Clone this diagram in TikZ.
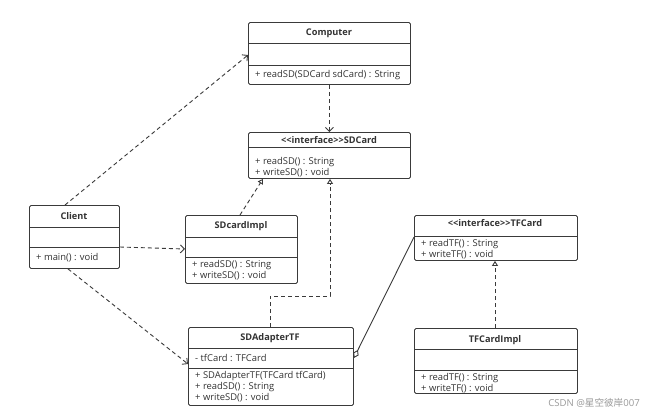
\documentclass[tikz,border=0pt]{standalone}
\usepackage{fontspec}
\setmainfont{Open Sans}
\newfontfamily\cjk{Noto Sans CJK SC}
\usetikzlibrary{arrows.meta,calc}
\definecolor{linec}{HTML}{3A3A3A}
\definecolor{textc}{HTML}{333333}
\definecolor{wmc}{HTML}{9A9A9A}
\begin{document}
\begin{tikzpicture}[x=1pt,y=-1pt,
  cls/.style={draw=linec, line width=0.9pt, rounded corners=1.5pt, fill=white, anchor=north west, inner sep=0pt},
  ttl/.style={font=\fontsize{9.2}{10}\selectfont\bfseries, text=textc, inner sep=0pt},
  mem/.style={font=\fontsize{9.4}{10}\selectfont, text=textc, anchor=west, inner sep=0pt},
  divl/.style={draw=linec, line width=0.9pt},
  conn/.style={draw=linec, line width=0.9pt},
  dep/.style={conn, dash pattern=on 4pt off 3pt, -{Straight Barb[length=4pt,width=8pt]}},
  real/.style={conn, dash pattern=on 4pt off 3pt, -{Triangle[open,length=5pt,width=6pt]}},
  agg/.style={conn, {Diamond[open,length=9pt,width=6pt]}-}
]
\useasboundingbox[fill=white] (0,0) rectangle (647,415);

% Computer
\node[cls, minimum width=162pt, minimum height=62pt] (computer) at (248,22) {};
\draw[divl] (248,43) -- (410,43) (248,65) -- (410,65);
\node[ttl] (computerT) at (329,33) {Computer};
\node[mem] (computerM1) at (255,75) {+ readSD(SDCard sdCard) : String};

% SDCard
\node[cls, minimum width=162pt, minimum height=46pt] (sdcard) at (248,132) {};
\draw[divl] (248,147) -- (410,147);
\node[ttl] (sdcardT) at (329,140) {<{}<interface>{}>SDCard};
\node[mem] (sdcardM1) at (255,162) {+ readSD() : String};
\node[mem] (sdcardM2) at (255,173) {+ writeSD() : void};

% Client
\node[cls, minimum width=90pt, minimum height=63pt] (client) at (29,205) {};
\draw[divl] (29,227) -- (119,227) (29,247) -- (119,247);
\node[ttl] (clientT) at (74,216) {Client};
\node[mem] (clientM1) at (36,258) {+ main() : void};

% SDcardImpl
\node[cls, minimum width=112pt, minimum height=68pt] (sdimpl) at (185,215) {};
\draw[divl] (185,237) -- (297,237) (185,257) -- (297,257);
\node[ttl] (sdimplT) at (241,226) {SDcardImpl};
\node[mem] (sdimplM1) at (192,265) {+ readSD() : String};
\node[mem] (sdimplM2) at (192,276) {+ writeSD() : void};

% SDAdapterTF
\node[cls, minimum width=165pt, minimum height=78pt] (adapter) at (188,327) {};
\draw[divl] (188,348) -- (353,348) (188,368) -- (353,368);
\node[ttl] (adapterT) at (270,338) {SDAdapterTF};
\node[mem] (adapterF1) at (195,358) {- tfCard : TFCard};
\node[mem] (adapterM1) at (195,376) {+ SDAdapterTF(TFCard tfCard)};
\node[mem] (adapterM2) at (195,387) {+ readSD() : String};
\node[mem] (adapterM3) at (195,398) {+ writeSD() : void};

% TFCard
\node[cls, minimum width=163pt, minimum height=45pt] (tfcard) at (414,215) {};
\draw[divl] (414,236) -- (577,236);
\node[ttl] (tfcardT) at (495,223) {<{}<interface>{}>TFCard};
\node[mem] (tfcardM1) at (421,244) {+ readTF() : String};
\node[mem] (tfcardM2) at (421,255) {+ writeTF() : void};

% TFCardImpl
\node[cls, minimum width=163pt, minimum height=65pt] (tfimpl) at (414,328) {};
\draw[divl] (414,349) -- (577,349) (414,370) -- (577,370);
\node[ttl] (tfimplT) at (495,340) {TFCardImpl};
\node[mem] (tfimplM1) at (421,378) {+ readTF() : String};
\node[mem] (tfimplM2) at (421,389) {+ writeTF() : void};

% connectors
\coordinate (bend1) at (270,296);
\coordinate (bend2) at (330,296);
\coordinate (tfr) at (495,328);
\draw[dep] ($(client.north west)+(36,0)$) -- ($(computer.north west)+(0,33)$);
\draw[dep] (computer.south) -- (sdcard.north);
\draw[real] ($(sdimpl.north west)+(55,0)$) -- ($(sdcard.south west)+(15,0)$);
\draw[real] ($(adapter.north west)+(82,0)$) -- (bend1) -- (bend2) -- ($(sdcard.south west)+(82,0)$);
\draw[dep] ($(client.north east)+(0,42)$) -- ($(sdimpl.north west)+(0,34)$);
\draw[dep] ($(client.south west)+(39,0)$) -- ($(adapter.north west)+(0,37)$);
\draw[agg] ($(adapter.north east)+(0,31)$) -- ($(tfcard.north west)+(0,22)$);
\draw[real] (tfr) -- (tfr |- tfcard.south);

% watermark
\node[font=\fontsize{9.6}{10}\selectfont, text=wmc, anchor=east, inner sep=0pt] (wm) at (640,403) {CSDN @{\cjk 星空彼岸}007};
\end{tikzpicture}
\end{document}
